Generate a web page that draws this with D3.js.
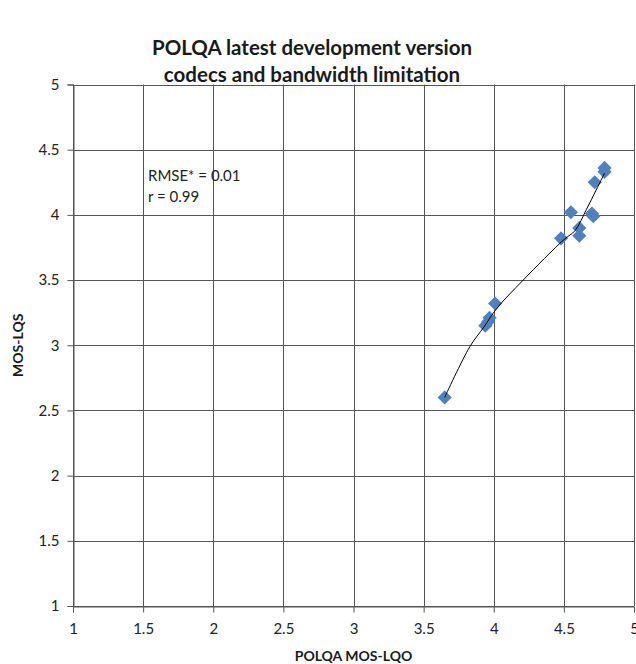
<!DOCTYPE html>
<html>
<head>
<meta charset="utf-8">
<script src="https://cdn.jsdelivr.net/npm/d3@7"></script>
<style>
  html, body { margin: 0; padding: 0; background: #fff; }
  svg { display: block; font-family: Lato, "Open Sans", sans-serif; }
</style>
</head>
<body>
<svg id="chart" width="636" height="664"></svg>
<script>
// ---- data ----
const titleLines = ["POLQA latest development version", "codecs and bandwidth limitation"];
const xTitle = "POLQA MOS-LQO";
const yTitle = "MOS-LQS";
const xTicks = [1, 1.5, 2, 2.5, 3, 3.5, 4, 4.5, 5];
const yTicks = [1, 1.5, 2, 2.5, 3, 3.5, 4, 4.5, 5];
const pointsX = [4.79, 4.79, 4.72, 4.55, 4.70, 4.71, 4.61, 4.61, 4.48, 4.01, 3.97, 3.94, 3.96, 3.65];
const pointsY = [4.36, 4.33, 4.25, 4.02, 4.01, 3.99, 3.90, 3.84, 3.82, 3.32, 3.21, 3.15, 3.18, 2.60];
const fitX = [3.65, 3.83, 3.93, 4.02, 4.21, 4.50, 4.58, 4.66, 4.73, 4.79];
const fitY = [2.60, 2.99, 3.14, 3.28, 3.50, 3.81, 3.88, 4.04, 4.19, 4.32];
const annotations = ["RMSE* = 0.01", "r = 0.99"];

// ---- layout ----
const svg = d3.select("#chart");
const L = 73, R = 634, T = 84.5, B = 606;
const x = d3.scaleLinear().domain([1, 5]).range([L, R]);
const y = d3.scaleLinear().domain([1, 5]).range([B, T]);
const gridColor = "#555";

// title
svg.append("g").selectAll("text").data(titleLines).join("text")
  .attr("x", 312).attr("y", (d, i) => 55 + i * 27)
  .attr("text-anchor", "middle")
  .attr("font-weight", "bold").attr("font-size", 20.5).attr("fill", "#1a1a1a")
  .text(d => d);

// grid lines
svg.append("g").selectAll("line").data(xTicks).join("line")
  .attr("x1", d => Math.round(x(d)) + 0.5).attr("x2", d => Math.round(x(d)) + 0.5)
  .attr("y1", T).attr("y2", B)
  .attr("stroke", gridColor).attr("stroke-width", 1);
svg.append("g").selectAll("line").data(yTicks).join("line")
  .attr("y1", d => Math.round(y(d)) + 0.5).attr("y2", d => Math.round(y(d)) + 0.5)
  .attr("x1", L).attr("x2", R)
  .attr("stroke", gridColor).attr("stroke-width", 1);

// axes
const fmt = d => String(d);
const xAxis = svg.append("g").attr("transform", `translate(0,${Math.round(y(1)) + 0.5})`)
  .call(d3.axisBottom(x).tickValues(xTicks).tickFormat(fmt).tickSize(6).tickPadding(8));
const yAxis = svg.append("g").attr("transform", `translate(${Math.round(x(1)) + 0.5},0)`)
  .call(d3.axisLeft(y).tickValues(yTicks).tickFormat(fmt).tickSize(6).tickPadding(8));
[xAxis, yAxis].forEach(g => {
  g.select(".domain").attr("stroke", gridColor);
  g.selectAll(".tick line").attr("stroke", gridColor);
  g.selectAll(".tick text").attr("font-family", "Lato, 'Open Sans', sans-serif")
    .attr("font-size", 15).attr("fill", "#222");
});
xAxis.selectAll(".tick text").attr("dy", "0.9em");

// axis titles
svg.append("text").attr("x", (L + R) / 2).attr("y", 661)
  .attr("text-anchor", "middle").attr("font-weight", "bold").attr("font-size", 14).attr("fill", "#1a1a1a")
  .text(xTitle);
svg.append("text").attr("transform", `translate(23,${(T + B) / 2}) rotate(-90)`)
  .attr("text-anchor", "middle").attr("font-weight", "bold").attr("font-size", 14).attr("fill", "#1a1a1a")
  .text(yTitle);

// annotations
svg.append("g").selectAll("text").data(annotations).join("text")
  .attr("x", 148).attr("y", (d, i) => 181 + i * 21)
  .attr("font-size", 15).attr("fill", "#222")
  .text(d => d);

// points
const pts = pointsX.map((v, i) => ({ x: v, y: pointsY[i] }));
svg.append("g").selectAll("path").data(pts).join("path")
  .attr("transform", d => `translate(${x(d.x)},${y(d.y)}) rotate(45)`)
  .attr("d", d3.symbol().type(d3.symbolSquare).size(100))
  .attr("fill", "#4f81bd");

// fit curve
const fit = fitX.map((v, i) => ({ x: v, y: fitY[i] }));
svg.append("path").datum(fit)
  .attr("d", d3.line().x(d => x(d.x)).y(d => y(d.y)).curve(d3.curveCatmullRom.alpha(0.5)))
  .attr("fill", "none").attr("stroke", "#000").attr("stroke-width", 1);
</script>
</body>
</html>
